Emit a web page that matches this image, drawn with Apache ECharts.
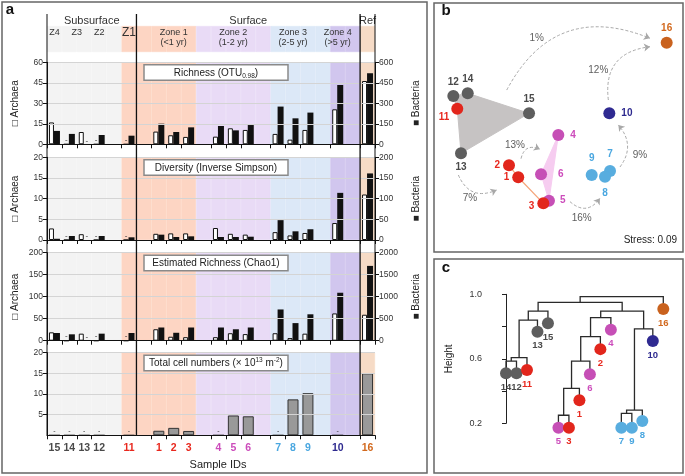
<!DOCTYPE html>
<html><head><meta charset="utf-8">
<script src="https://cdn.jsdelivr.net/npm/echarts@6/dist/echarts.min.js"></script>
<style>html,body{margin:0;padding:0;background:#fff}#c{width:685px;height:476px}</style>
</head><body><div id="c"></div>
<script>
// ================= DATA =================
const sampleGroups = [['15','14','13','12'],['11'],['1','2','3'],['4','5','6'],['7','8','9'],['10'],['16']];
const samples = ['15','14','13','12','11','1','2','3','4','5','6','7','8','9','10','16'];
const sampleZone = ['sub','sub','sub','sub','z1','zone1','zone1','zone1','zone2','zone2','zone2','zone3','zone3','zone3','zone4','ref'];
const gapZone = ['sub','zone1','zone2','zone2','zone3','zone4'];

// Richness (OTU 0.98)
const richArch = [16, null, 9, null, null, 9.3, 6.6, 5.4, 5.6, 11.7, 10.5, 7.6, 3.4, 10.5, 25.6, 46.3];
const richBact = [98, 76, null, 68, 63, 151, 90, 124, 134, 102, 141, 276, 190, 232, 434, 520];
// Diversity (Inverse Simpson)
const divArch = [2.8, null, 1.4, null, null, 1.5, 1.6, 1.6, 2.9, 1.5, 1.3, 1.9, 1.1, 1.7, 4.1, 11.0];
const divBact = [3, 9.7, null, 9.7, 6.5, 12.9, 7.3, 8.9, 7.3, 7.3, 8, 48, 21, 26, 114, 161];
// Estimated richness (Chao1)
const chaoArch = [19, null, 16, null, null, 26, 9, 8, 8, 17, 15, 17, 6, 16, 62, 59];
const chaoBact = [175, 145, null, 160, 175, 300, 180, 300, 300, 260, 300, 710, 400, 600, 1090, 1700];
// Total cell numbers (x10^13 m^-2)
const cells = [null, null, null, null, null, 1.1, 1.8, 1.05, null, 4.8, 4.6, null, 8.7, 10.2, null, 15.0];

// NMDS ordination (panel b), same order as samples
const nmdsX = [-0.258, -0.769, -0.825, -0.889, -0.856, -0.348, -0.425, -0.139, -0.014, -0.092, -0.158, 0.417, 0.375, 0.264, 0.411, 0.889];
const nmdsY = [0.139, 0.306, -0.194, 0.283, 0.178, -0.394, -0.294, -0.611, -0.042, -0.589, -0.369, -0.342, -0.389, -0.375, 0.139, 0.728];
const hullGray = ['14','15','13','11','12'];
const hullPink = ['4','5','6'];
const pathOrange = ['2','1','3'];
// community shifts between groups
const shiftFrom = [[-0.444,0.333],[0.403,0.25],[0.5,-0.308],[0.083,-0.597],[-0.847,-0.375],[-0.325,-0.239]];
const shiftTo = [[0.75,0.764],[0.75,0.694],[0.486,0.042],[0.333,-0.569],[-0.528,-0.5],[-0.167,-0.161]];
const shiftText = ['1%','12%','9%','16%','7%','13%'];
const shiftTextPos = [[-0.194,0.764],[0.319,0.5],[0.667,-0.208],[0.181,-0.736],[-0.75,-0.569],[-0.375,-0.125]];
const stressText = 'Stress: 0.09';

// Dendrogram (panel c)
const leafOrder = ['14','12','11','13','15','5','3','1','6','2','4','7','9','8','10','16'];
const leafHeight = [0.51, 0.51, 0.53, 0.768, 0.82, 0.173, 0.173, 0.343, 0.504, 0.66, 0.78, 0.173, 0.173, 0.214, 0.71, 0.909];
const merges = [
  ['14','12',0.586], ['m0','11',0.607], ['m1','13',0.84], ['m2','15',0.896],
  ['5','3',0.25], ['m4','1',0.417], ['m5','6',0.586], ['m6','2',0.737], ['m7','4',0.855],
  ['7','9',0.262], ['m9','8',0.282], ['m10','10',0.785],
  ['m8','m11',0.896], ['m3','m12',0.95], ['m13','16',0.985]
];

// ================= STYLE =================
const FONT = '"Liberation Sans", Arial, Helvetica, sans-serif';
const zoneBg = {sub:'#f3f3f3', z1:'#fdd5c3', zone1:'#fdd5c3', zone2:'#e9dbf6', zone3:'#dce8f7', zone4:'#d1c6ee', ref:'#f6dbc6'};
const zoneLabel = {sub:'#4a4a4a', z1:'#e8281e', zone1:'#e8281e', zone2:'#cc4cbb', zone3:'#4aa7e0', zone4:'#2e2a8f', ref:'#d2691e'};
const zonePoint = {sub:'#5e5e5e', z1:'#e2261c', zone1:'#e2261c', zone2:'#c64fb6', zone3:'#58addf', zone4:'#2f2a91', ref:'#c9621e'};

const G = {left: 47, width: 328};
const panelLayout = [
  {top: 62.3, height: 82}, {top: 157.3, height: 82.7}, {top: 252.7, height: 88}, {top: 352.7, height: 82.6}
];
const headerLayout = {top: 26, height: 26};

// ================= BUILD =================
const slots = [];
sampleGroups.forEach((g, k) => {
  if (k > 0) slots.push({name: 'gap' + k, s: -1, zone: gapZone[k - 1]});
  g.forEach(s => { const i = samples.indexOf(s); slots.push({name: s, s: i, zone: sampleZone[i]}); });
});
const slotNames = slots.map(d => d.name);
const zoneOfSample = {}; samples.forEach((s, i) => zoneOfSample[s] = sampleZone[i]);

function slotData(arr, dashSize) {
  return slots.map(d => {
    if (d.s < 0) return null;
    const v = arr[d.s];
    if (v === null) return {value: 0, label: {show: true, position: 'top', distance: 0, formatter: '-', fontSize: dashSize, color: '#333'}};
    return v;
  });
}
const tickShow = (i, v) => !String(v).startsWith('gap');

const panels = [
  {arch: richArch, bact: richBact, lmax: 60, lint: 15, rmax: 600, rint: 150, title: 'Richness (OTU{sub|0.98})'},
  {arch: divArch, bact: divBact, lmax: 20, lint: 5, rmax: 200, rint: 50, title: 'Diversity (Inverse Simpson)'},
  {arch: chaoArch, bact: chaoBact, lmax: 200, lint: 50, rmax: 2000, rint: 500, title: 'Estimated Richness (Chao1)'},
  {cells: cells, lmax: 20, lint: 5, title: 'Total cell numbers (\u00d7 10{sup|13} m{sup|-2})'}
];

const option = {animation: false, backgroundColor: '#fff', textStyle: {fontFamily: FONT},
  grid: [], xAxis: [], yAxis: [], series: []};

const labelRich = {};
Object.keys(zoneLabel).forEach(z => labelRich[z] = {fontWeight: 'bold', fontSize: 10.5, color: zoneLabel[z], fontFamily: FONT});

function bandSeries(xi, yi) {
  return {type: 'bar', xAxisIndex: xi, yAxisIndex: yi, barWidth: '100%', silent: true, z: -1,
    data: slots.map(d => ({value: 1, itemStyle: {color: zoneBg[d.zone], borderColor: zoneBg[d.zone], borderWidth: 0.6}}))};
}

const axisLabelStyle = {fontSize: 8.5, color: '#333', margin: 4, fontFamily: FONT, formatter: v => String(v)};
panels.forEach((P, p) => {
  option.grid.push({left: G.left, width: G.width, top: panelLayout[p].top, height: panelLayout[p].height});
  const xMain = option.xAxis.length;
  option.xAxis.push({gridIndex: p, type: 'category', data: slotNames, z: 3,
    axisLine: {onZero: false, lineStyle: {color: '#111', width: 1}},
    axisTick: {show: true, length: 4, interval: tickShow, lineStyle: {color: '#111'}},
    axisLabel: p === 3 ? {show: true, interval: 0, margin: 7, rich: labelRich,
      formatter: v => v.startsWith('gap') ? '' : '{' + zoneOfSample[v] + '|' + v + '}'} : {show: false},
    splitLine: {show: false}});
  const xBand = option.xAxis.length;
  option.xAxis.push({gridIndex: p, type: 'category', data: slotNames, show: false});
  const yL = option.yAxis.length;
  option.yAxis.push({gridIndex: p, type: 'value', position: 'left', min: 0, max: P.lmax, interval: P.lint, z: 3,
    axisLine: {show: true, lineStyle: {color: '#111'}}, axisTick: {show: true, length: 4, lineStyle: {color: '#111'}},
    axisLabel: Object.assign({showMinLabel: p !== 3}, axisLabelStyle),
    splitLine: {show: true, lineStyle: {color: '#d4d4d4', width: 1}},
    name: P.bact ? '\u25a1 Archaea' : '', nameLocation: 'middle', nameRotate: 90, nameGap: 27,
    nameTextStyle: {fontSize: 10, color: '#222', fontFamily: FONT}});
  let yR = null;
  if (P.bact) {
    yR = option.yAxis.length;
    option.yAxis.push({gridIndex: p, type: 'value', position: 'right', min: 0, max: P.rmax, interval: P.rint, z: 3,
      axisLine: {show: true, lineStyle: {color: '#111'}}, axisTick: {show: true, length: 4, lineStyle: {color: '#111'}},
      axisLabel: axisLabelStyle, splitLine: {show: false},
      name: '\u25a0 Bacteria', nameLocation: 'middle', nameRotate: 90, nameGap: 36,
      nameTextStyle: {fontSize: 10, color: '#222', fontFamily: FONT}});
  }
  const yB = option.yAxis.length;
  option.yAxis.push({gridIndex: p, type: 'value', min: 0, max: 1, show: false});
  option.series.push(bandSeries(xBand, yB));
  if (P.bact) {
    option.series.push({type: 'bar', name: 'Archaea', xAxisIndex: xMain, yAxisIndex: yL, barWidth: 5, barGap: '0%',
      data: slotData(P.arch, 8), itemStyle: {color: '#fff', borderColor: '#111', borderWidth: 1}});
    option.series.push({type: 'bar', name: 'Bacteria', xAxisIndex: xMain, yAxisIndex: yR, barWidth: 6, barGap: '0%',
      data: slotData(P.bact, 8), itemStyle: {color: '#111'}});
  } else {
    option.series.push({type: 'bar', name: 'Cells', xAxisIndex: xMain, yAxisIndex: yL, barWidth: 11,
      data: slotData(P.cells, 7), itemStyle: {color: '#999', borderColor: '#333', borderWidth: 1}});
  }
});

// header grid (zone strip)
const hdrGrid = option.grid.length;
option.grid.push({left: G.left, width: G.width, top: headerLayout.top, height: headerLayout.height});
const hdrX = option.xAxis.length;
option.xAxis.push({gridIndex: hdrGrid, type: 'category', data: slotNames, show: false});
const hdrY = option.yAxis.length;
option.yAxis.push({gridIndex: hdrGrid, type: 'value', min: 0, max: 1, show: false});
option.series.push(bandSeries(hdrX, hdrY));

// NMDS grid
const nmGrid = option.grid.length;
option.grid.push({left: 440, width: 240, top: 10, height: 240});
const nmX = option.xAxis.length;
option.xAxis.push({gridIndex: nmGrid, type: 'value', min: -1, max: 1, show: false});
const nmY = option.yAxis.length;
option.yAxis.push({gridIndex: nmGrid, type: 'value', min: -1, max: 1, show: false});
const sIdx = s => samples.indexOf(s);
const hulls = [
  {members: hullGray, kind: 'polygon', color: '#c6c3c3'},
  {members: hullPink, kind: 'polygon', color: '#f6ccf0'},
  {members: pathOrange, kind: 'polyline', color: '#f5a57a'}
];
option.series.push({type: 'custom', xAxisIndex: nmX, yAxisIndex: nmY, z: 1, silent: true,
  data: hulls.map(() => [0, 0]),
  renderItem: (params, api) => {
    const h = hulls[params.dataIndex];
    const pts = h.members.map(s => api.coord([nmdsX[sIdx(s)], nmdsY[sIdx(s)]]));
    if (h.kind === 'polygon') return {type: 'polygon', shape: {points: pts}, style: {fill: h.color, stroke: h.color, lineWidth: 1}};
    return {type: 'polyline', shape: {points: pts}, style: {stroke: h.color, lineWidth: 1.2, fill: null}};
  }});
const curv = [0.45, 0.5, -0.4, -0.55, -0.5, 0.6];
shiftFrom.forEach((f, i) => {
  option.series.push({type: 'lines', coordinateSystem: 'cartesian2d', xAxisIndex: nmX, yAxisIndex: nmY, z: 2, silent: true,
    symbol: ['none', 'arrow'], symbolSize: 6,
    lineStyle: {color: '#a8a8a8', width: 1, type: [3, 2], curveness: curv[i], opacity: 1},
    data: [{coords: [f, shiftTo[i]]}]});
});
option.series.push({type: 'scatter', xAxisIndex: nmX, yAxisIndex: nmY, symbolSize: 0.1, z: 4, silent: true,
  itemStyle: {color: 'rgba(0,0,0,0)'},
  label: {show: true, position: 'inside', fontSize: 10, color: '#333', fontFamily: FONT, formatter: p => p.name},
  data: shiftText.map((t, i) => ({name: t, value: shiftTextPos[i]}))});
const nmLabel = {
  '12': {position: 'top'}, '14': {position: 'top'}, '11': {position: 'left', offset: [1, 9]},
  '15': {position: 'top'}, '13': {position: 'bottom'}, '4': {position: 'right', distance: 6},
  '2': {position: 'left'}, '1': {position: 'left'}, '6': {position: 'right', distance: 11},
  '5': {position: 'right', distance: 5}, '3': {position: 'left', offset: [0, 3]},
  '9': {position: 'top', distance: 6}, '7': {position: 'top', distance: 6}, '8': {position: 'bottom', distance: 6},
  '10': {position: 'right', distance: 6}, '16': {position: 'top'}
};
const drawOrder = samples.map((s, i) => i).sort((a, b) => {
  const r = z => (z === 'zone1' || z === 'z1') ? 1 : 0;
  return r(sampleZone[a]) - r(sampleZone[b]);
});
option.series.push({type: 'scatter', xAxisIndex: nmX, yAxisIndex: nmY, symbolSize: 12, z: 3,
  data: drawOrder.map(i => ({name: samples[i], value: [nmdsX[i], nmdsY[i]],
    itemStyle: {color: zonePoint[sampleZone[i]], opacity: 1},
    label: Object.assign({show: true, formatter: samples[i], fontWeight: 'bold', fontSize: 10, distance: 3,
      color: zoneLabel[sampleZone[i]], fontFamily: FONT}, nmLabel[samples[i]])}))});

// Dendrogram grid
const dGrid = option.grid.length;
option.grid.push({left: 506, width: 157.3, top: 294.3, height: 129});
const dX = option.xAxis.length;
option.xAxis.push({gridIndex: dGrid, type: 'value', min: 0, max: 15, show: false});
const dY = option.yAxis.length;
option.yAxis.push({gridIndex: dGrid, type: 'value', min: 0.2, max: 1.0, interval: 0.2, offset: 20,
  axisLine: {show: true, lineStyle: {color: '#222'}}, axisTick: {show: true, length: 4, lineStyle: {color: '#222'}},
  axisLabel: {fontSize: 9, color: '#333', margin: 4, fontFamily: FONT,
    formatter: v => (Math.abs(v - 0.4) < 1e-6 || Math.abs(v - 0.8) < 1e-6) ? '' : v.toFixed(1)},
  splitLine: {show: false},
  name: 'Height', nameLocation: 'middle', nameRotate: 90, nameGap: 32,
  nameTextStyle: {fontSize: 10, color: '#222', fontFamily: FONT}});
const nodeX = {}, nodeH = {};
leafOrder.forEach((s, i) => { nodeX[s] = i; nodeH[s] = leafHeight[i]; });
const segs = merges.map((m, k) => {
  const [a, b, h] = m;
  nodeX['m' + k] = (nodeX[a] + nodeX[b]) / 2; nodeH['m' + k] = h;
  return [nodeX[a], nodeH[a], nodeX[b], nodeH[b], h];
});
option.series.push({type: 'custom', xAxisIndex: dX, yAxisIndex: dY, z: 2, silent: true,
  encode: {x: [0, 2], y: [1, 3, 4]},
  data: segs,
  renderItem: (params, api) => {
    const p1 = api.coord([api.value(0), api.value(1)]);
    const p2 = api.coord([api.value(0), api.value(4)]);
    const p3 = api.coord([api.value(2), api.value(4)]);
    const p4 = api.coord([api.value(2), api.value(3)]);
    return {type: 'polyline', shape: {points: [p1, p2, p3, p4]}, style: {stroke: '#2a2a2a', lineWidth: 1.3, fill: null}};
  }});
option.series.push({type: 'scatter', xAxisIndex: dX, yAxisIndex: dY, symbolSize: 12, z: 3, clip: false,
  data: leafOrder.map((s, i) => ({name: s, value: [i, leafHeight[i]],
    itemStyle: {color: zonePoint[zoneOfSample[s]], opacity: 1},
    label: {show: true, position: 'bottom', distance: 3, formatter: s, fontWeight: 'bold', fontSize: 9.5,
      color: zoneLabel[zoneOfSample[s]], fontFamily: FONT}}))});

const chart = echarts.init(document.getElementById('c'));
chart.setOption(option);

// ================= ANNOTATIONS (graphic) =================
const px = i => chart.convertToPixel({xAxisIndex: 0}, i);
const w = px(1) - px(0);
const firstSlot = z => slots.findIndex(d => d.zone === z);
const divZ1 = px(firstSlot('zone1')) - w / 2;
const divRef = px(firstSlot('ref')) - w / 2;
const L = G.left, R = G.left + G.width;
const center = list => list.reduce((a, s) => a + px(slotNames.indexOf(s)), 0) / list.length;
const gfx = [];
const txt = (x, y, text, o) => gfx.push({type: 'text', x, y, silent: true,
  style: Object.assign({text, fill: '#333', font: (o && o.font) || '10px ' + FONT, align: 'center', verticalAlign: 'middle'}, o || {})});
// frames
[[2, 2, 425, 471], [434, 3, 249, 249], [434, 259, 249, 214]].forEach(r =>
  gfx.push({type: 'rect', shape: {x: r[0], y: r[1], width: r[2], height: r[3]}, silent: true, z: 10,
    style: {fill: null, stroke: '#666', lineWidth: 1.5}}));
txt(10, 10, 'a', {font: 'bold 15px ' + FONT, fill: '#111'});
txt(446, 11, 'b', {font: 'bold 15px ' + FONT, fill: '#111'});
txt(446, 268, 'c', {font: 'bold 15px ' + FONT, fill: '#111'});
// header texts
txt((L + divZ1) / 2, 21, 'Subsurface', {font: '11px ' + FONT});
txt((divZ1 + divRef) / 2, 21, 'Surface', {font: '11px ' + FONT});
txt((divRef + R) / 2, 21, 'Ref', {font: '11px ' + FONT});
[['Z4', ['15']], ['Z3', ['14', '13']], ['Z2', ['12']]].forEach(h => txt(center(h[1]), 33, h[0], {font: '9px ' + FONT}));
txt(center(['11']), 33, 'Z1', {font: '12px ' + FONT});
[['Zone 1', '(<1 yr)', ['1', '2', '3']], ['Zone 2', '(1-2 yr)', ['4', '5', '6']],
 ['Zone 3', '(2-5 yr)', ['7', '8', '9']], ['Zone 4', '(>5 yr)', ['10']]].forEach(h => {
  txt(center(h[2]), 33, h[0], {font: '9px ' + FONT});
  txt(center(h[2]), 43, h[1], {font: '9px ' + FONT});
});
// vertical dividers
const bottomY = panelLayout[3].top + panelLayout[3].height;
[[L, 14, bottomY, 1], [divZ1, 14, bottomY, 1.3], [divRef, 14, bottomY, 1.3],
 [R, 14, panelLayout[2].top + panelLayout[2].height, 1]].forEach(v =>
  gfx.push({type: 'line', silent: true, z: 5, shape: {x1: v[0], y1: v[1], x2: v[0], y2: v[2]},
    style: {stroke: '#111', lineWidth: v[3]}}));
// title boxes
const sub = {fontSize: 6.5, verticalAlign: 'bottom', lineHeight: 13, fontFamily: FONT, fill: '#222'};
const sup = {fontSize: 6.5, verticalAlign: 'top', lineHeight: 13, fontFamily: FONT, fill: '#222'};
panels.forEach((P, p) => {
  const y0 = panelLayout[p].top + 2.5;
  gfx.push({type: 'rect', silent: true, z: 6, shape: {x: L + 97, y: y0, width: 144, height: 15.5},
    style: {fill: '#fff', stroke: '#8a8a8a', lineWidth: 1.5}});
  gfx.push({type: 'text', silent: true, z: 7, x: L + 97 + 72, y: y0 + 8,
    style: {text: P.title, font: '10px ' + FONT, fill: '#222', align: 'center', verticalAlign: 'middle',
      lineHeight: 13, rich: {sub, sup}}});
});
txt(218, 465, 'Sample IDs', {font: '11px ' + FONT, fill: '#222'});
txt(677, 240, stressText, {font: '10px ' + FONT, fill: '#222', align: 'right'});
chart.setOption({graphic: gfx});
</script></body></html>
